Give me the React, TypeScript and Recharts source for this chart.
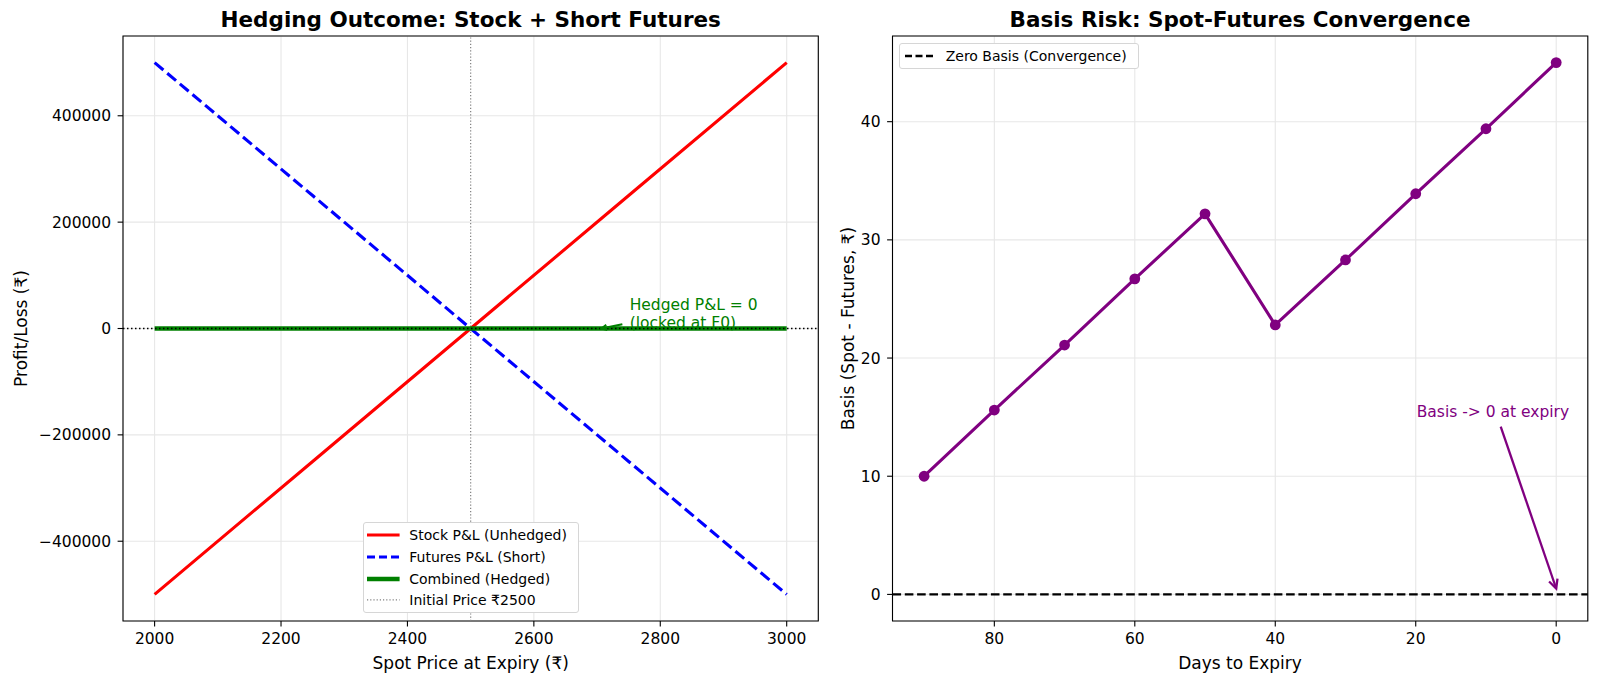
import React from 'react';
import {
  LineChart,
  Line,
  XAxis,
  YAxis,
  CartesianGrid,
  ReferenceLine,
  ReferenceArea,
  ReferenceDot,
  Legend
} from 'recharts';

// left panel: stock vs short futures payoff
const spotPrices = [2000, 2250, 2500, 2750, 3000];
const stockPnl = [-500000, -250000, 0, 250000, 500000];
const futuresPnl = [500000, 250000, 0, -250000, -500000];
const hedgedPnl = [0, 0, 0, 0, 0];
const spotTicks = [2000, 2200, 2400, 2600, 2800, 3000];
const pnlTicks = [-400000, -200000, 0, 200000, 400000];
const initialPrice = 2500;
const hedgeLegendLabels = [
  'Stock P&L (Unhedged)',
  'Futures P&L (Short)',
  'Combined (Hedged)',
  'Initial Price ₹2500'
];

// right panel: basis convergence
const daysToExpiry = [90, 80, 70, 60, 50, 40, 30, 20, 10, 0];
const basisValues = [10.0, 15.6, 21.1, 26.7, 32.2, 22.8, 28.3, 33.9, 39.4, 45.0];
const dayTicks = [0, 20, 40, 60, 80];
const basisTicks = [0, 10, 20, 30, 40];
const basisLegendLabels = ['Zero Basis (Convergence)'];

// annotation anchors (data coords)
const hedgeNote = { x: 2750, y: 0, lines: ['Hedged P&L = 0', '(locked at F0)'] };
const hedgeArrow = { from: { x: 2740, y: 8000 }, to: { x: 2707, y: 0 } };
const basisNote = { x: 20, y: 15, text: 'Basis -> 0 at expiry' };
const basisArrow = { from: { x: 7.9, y: 14.2 }, to: { x: 0, y: 0.5 } };

const hedgeData = spotPrices.map((s, i) => ({
  spot: s,
  stock: stockPnl[i],
  futures: futuresPnl[i],
  hedged: hedgedPnl[i]
}));
const basisData = daysToExpiry.map((d, i) => ({ day: d, basis: basisValues[i] }));

const FONT = 'DejaVu Sans, sans-serif';
const GRID = '#e7e7e7';
const tickStyle = { fill: '#000', fontSize: 15.5, fontFamily: FONT };
const tickLine = { stroke: '#000', strokeWidth: 1.1 };
const minus = (v: number) => (v < 0 ? '\u2212' + Math.abs(v) : String(v));

const hedgeLegendStyles = [
  { color: '#ff0000', width: 3.1, dash: undefined },
  { color: '#0000ff', width: 3.1, dash: '8 4' },
  { color: '#008000', width: 4.6, dash: undefined },
  { color: '#808080', width: 1.2, dash: '1.2 2' }
];
const basisLegendStyles = [{ color: '#000', width: 2.3, dash: '7 3.5' }];

const makeArrow = (color: string, width: number, head: number) => (p: any) => {
  const { x1, y1, x2, y2 } = p;
  const ang = Math.atan2(y2 - y1, x2 - x1);
  const a1 = ang + Math.PI - 0.46;
  const a2 = ang + Math.PI + 0.46;
  const pts = `${x2 + head * Math.cos(a1)},${y2 + head * Math.sin(a1)} ${x2},${y2} ${
    x2 + head * Math.cos(a2)
  },${y2 + head * Math.sin(a2)}`;
  return (
    <g>
      <line x1={x1} y1={y1} x2={x2} y2={y2} stroke={color} strokeWidth={width} />
      <polyline points={pts} fill="none" stroke={color} strokeWidth={width} />
    </g>
  );
};

const LegendBox = ({
  labels,
  styles,
  rowHeight,
  padTop,
  handleX,
  textX
}: {
  labels: string[];
  styles: { color: string; width: number; dash?: string }[];
  rowHeight: number;
  padTop: number;
  handleX: [number, number];
  textX: number;
}) => (
  <div
    style={{
      boxSizing: 'border-box',
      width: '100%',
      height: '100%',
      background: '#fff',
      border: '1px solid #d6d6d6',
      borderRadius: 3,
      paddingTop: padTop,
      fontFamily: FONT,
      fontSize: 14,
      color: '#000'
    }}
  >
    {labels.map((label, i) => (
      <div
        key={label}
        style={{ position: 'relative', height: rowHeight, display: 'flex', alignItems: 'center' }}
      >
        <svg
          width={handleX[1] + 2}
          height={rowHeight}
          style={{ position: 'absolute', left: -1, top: 0 }}
        >
          <line
            x1={handleX[0]}
            x2={handleX[1]}
            y1={rowHeight / 2}
            y2={rowHeight / 2}
            stroke={styles[i].color}
            strokeWidth={styles[i].width}
            strokeDasharray={styles[i].dash}
          />
        </svg>
        <span style={{ position: 'absolute', left: textX - 1, whiteSpace: 'nowrap', lineHeight: 1 }}>
          {label}
        </span>
      </div>
    ))}
  </div>
);

const HedgeChart = () => (
  <LineChart
    width={830}
    height={684}
    data={hedgeData}
    margin={{ top: 36, right: 11.7, bottom: 33, left: 0 }}
  >
    <CartesianGrid stroke={GRID} strokeWidth={1.1} />
    <XAxis
      dataKey="spot"
      type="number"
      domain={[1950, 3050]}
      ticks={spotTicks}
      interval={0}
      height={30}
      axisLine={false}
      tickLine={tickLine}
      tickSize={5.4}
      tickMargin={6.5}
      tick={tickStyle}
    />
    <YAxis
      type="number"
      domain={[-550000, 550000]}
      ticks={pnlTicks}
      interval={0}
      width={123}
      axisLine={false}
      tickLine={tickLine}
      tickSize={5.4}
      tickMargin={6.5}
      tick={tickStyle}
      tickFormatter={minus}
    />
    <ReferenceLine x={initialPrice} stroke="#808080" strokeWidth={1.2} strokeDasharray="1.2 2" />
    <Line
      type="linear"
      dataKey="stock"
      stroke="#ff0000"
      strokeWidth={3.1}
      dot={false}
      isAnimationActive={false}
    />
    <Line
      type="linear"
      dataKey="futures"
      stroke="#0000ff"
      strokeWidth={3.1}
      strokeDasharray="11.5 5"
      dot={false}
      isAnimationActive={false}
    />
    <Line
      type="linear"
      dataKey="hedged"
      stroke="#008000"
      strokeWidth={4.6}
      dot={false}
      isAnimationActive={false}
    />
    <ReferenceLine y={0} stroke="#000" strokeWidth={1.5} strokeDasharray="1.5 2.5" />
    <ReferenceLine
      segment={[hedgeArrow.from, hedgeArrow.to]}
      shape={makeArrow('#008000', 2, 6)}
    />
    <ReferenceDot
      x={hedgeNote.x}
      y={hedgeNote.y}
      r={0}
      shape={(p: any) => (
        <text x={p.cx + 1} y={p.cy} fill="#008000" fontSize={15.5} fontFamily={FONT}>
          <tspan x={p.cx + 1} dy={-19}>
            {hedgeNote.lines[0]}
          </tspan>
          <tspan x={p.cx + 1} dy={18}>
            {hedgeNote.lines[1]}
          </tspan>
        </text>
      )}
    />
    <ReferenceArea
      x1={1950}
      x2={3050}
      y1={-550000}
      y2={550000}
      fill="none"
      stroke="#000"
      strokeWidth={1.1}
      ifOverflow="visible"
    />
    <Legend
      layout="vertical"
      align="center"
      verticalAlign="middle"
      wrapperStyle={{ left: 362.7, top: 522.3, width: 216, height: 91 }}
      content={() => (
        <LegendBox
          labels={hedgeLegendLabels}
          styles={hedgeLegendStyles}
          rowHeight={21.9}
          padTop={0.5}
          handleX={[4, 36.6]}
          textX={46.6}
        />
      )}
    />
  </LineChart>
);

const BasisChart = () => (
  <LineChart
    width={770}
    height={684}
    data={basisData}
    margin={{ top: 36, right: 12.2, bottom: 33, left: 0 }}
  >
    <CartesianGrid stroke={GRID} strokeWidth={1.1} />
    <XAxis
      dataKey="day"
      type="number"
      domain={[-4.5, 94.5]}
      reversed
      ticks={dayTicks}
      interval={0}
      height={30}
      axisLine={false}
      tickLine={tickLine}
      tickSize={5.4}
      tickMargin={6.5}
      tick={tickStyle}
    />
    <YAxis
      type="number"
      domain={[-2.25, 47.25]}
      ticks={basisTicks}
      interval={0}
      width={62.5}
      axisLine={false}
      tickLine={tickLine}
      tickSize={5.4}
      tickMargin={6.5}
      tick={tickStyle}
    />
    <ReferenceLine y={0} stroke="#000" strokeWidth={2.3} strokeDasharray="8.6 3.7" />
    <Line
      type="linear"
      dataKey="basis"
      stroke="#800080"
      strokeWidth={3.1}
      dot={{ r: 5.4, fill: '#800080', stroke: '#800080', strokeWidth: 0 }}
      isAnimationActive={false}
    />
    <ReferenceLine
      segment={[basisArrow.from, basisArrow.to]}
      shape={makeArrow('#800080', 2.3, 10)}
    />
    <ReferenceDot
      x={basisNote.x}
      y={basisNote.y}
      r={0}
      shape={(p: any) => (
        <text x={p.cx + 1} y={p.cy} fill="#800080" fontSize={15.5} fontFamily={FONT}>
          {basisNote.text}
        </text>
      )}
    />
    <ReferenceArea
      x1={-4.5}
      x2={94.5}
      y1={-2.25}
      y2={47.25}
      fill="none"
      stroke="#000"
      strokeWidth={1.1}
      ifOverflow="visible"
    />
    <Legend
      layout="vertical"
      align="center"
      verticalAlign="middle"
      wrapperStyle={{ left: 69, top: 43.3, width: 240, height: 26 }}
      content={() => (
        <LegendBox
          labels={basisLegendLabels}
          styles={basisLegendStyles}
          rowHeight={24}
          padTop={0}
          handleX={[6, 35.3]}
          textX={46.7}
        />
      )}
    />
  </LineChart>
);

export default function App() {
  return (
    <div
      style={{
        position: 'absolute',
        left: 0,
        top: 0,
        width: 1600,
        height: 684,
        background: '#fff',
        overflow: 'hidden'
      }}
    >
      <div style={{ position: 'absolute', left: 0, top: 0 }}>
        <HedgeChart />
      </div>
      <div style={{ position: 'absolute', left: 830, top: 0 }}>
        <BasisChart />
      </div>
      <svg
        width={1600}
        height={684}
        style={{ position: 'absolute', left: 0, top: 0, pointerEvents: 'none' }}
        fontFamily={FONT}
      >
        <text x={470.7} y={26.7} textAnchor="middle" fontSize={21.5} fontWeight="bold">
          Hedging Outcome: Stock + Short Futures
        </text>
        <text x={1240} y={26.7} textAnchor="middle" fontSize={21.5} fontWeight="bold">
          Basis Risk: Spot-Futures Convergence
        </text>
        <text x={470.7} y={669} textAnchor="middle" fontSize={17}>
          Spot Price at Expiry (₹)
        </text>
        <text x={1240} y={669} textAnchor="middle" fontSize={17}>
          Days to Expiry
        </text>
        <text
          x={26.5}
          y={328.5}
          textAnchor="middle"
          fontSize={17}
          transform="rotate(-90 26.5 328.5)"
        >
          Profit/Loss (₹)
        </text>
        <text
          x={854.3}
          y={328.5}
          textAnchor="middle"
          fontSize={17}
          transform="rotate(-90 854.3 328.5)"
        >
          Basis (Spot - Futures, ₹)
        </text>
      </svg>
    </div>
  );
}
